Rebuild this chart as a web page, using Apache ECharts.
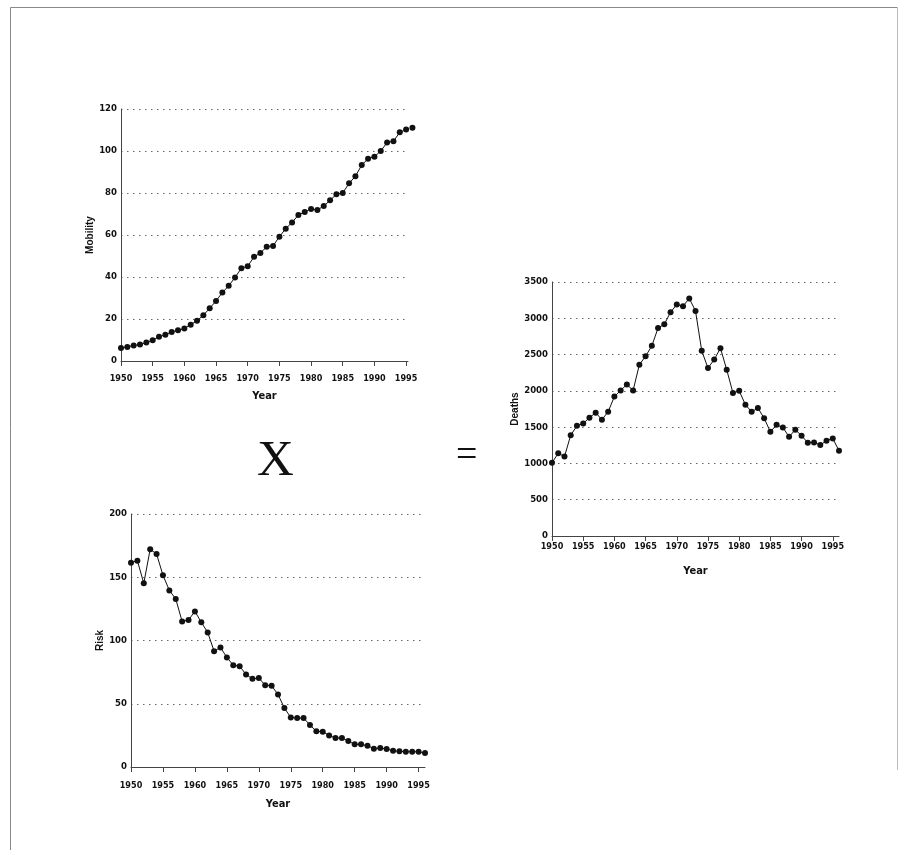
<!DOCTYPE html>
<html>
<head>
<meta charset="utf-8">
<script src="https://cdn.jsdelivr.net/npm/echarts@6/dist/echarts.min.js"></script>
<style>
html,body{margin:0;padding:0;background:#fff;}
#chart{width:908px;height:855px;}
</style>
</head>
<body>
<div id="chart"></div>
<script>
// ---- data ----
const years = [1950,1951,1952,1953,1954,1955,1956,1957,1958,1959,1960,1961,1962,1963,1964,1965,1966,1967,1968,1969,1970,1971,1972,1973,1974,1975,1976,1977,1978,1979,1980,1981,1982,1983,1984,1985,1986,1987,1988,1989,1990,1991,1992,1993,1994,1995,1996];
const mobility = [6.2,6.7,7.4,7.8,8.8,9.9,11.5,12.5,13.8,14.6,15.5,17.3,19.2,21.8,25.1,28.6,32.6,35.8,39.8,44.2,45.1,49.6,51.4,54.4,54.8,59.2,63.0,66.0,69.5,71.0,72.4,71.9,73.8,76.5,79.4,80.0,84.6,88.0,93.3,96.3,97.3,100.0,104.0,104.6,108.9,110.2,111.1];
const risk = [161.5,163.1,145.2,172.2,168.4,151.6,139.6,132.9,115.0,116.3,123.0,114.4,106.4,91.6,94.5,86.6,80.5,79.7,73.2,69.7,70.3,64.7,64.2,57.4,46.6,39.2,38.7,38.7,33.2,28.2,27.9,25.0,22.9,22.9,20.5,17.9,17.9,16.8,14.5,15.0,14.2,12.9,12.4,12.1,12.1,12.0,11.0];
const deaths = [1010,1140,1094,1390,1518,1550,1630,1699,1602,1713,1921,2005,2088,2005,2361,2477,2620,2866,2917,3083,3190,3167,3273,3102,2551,2315,2431,2588,2292,1972,2000,1810,1711,1764,1623,1436,1532,1495,1368,1464,1382,1286,1290,1254,1313,1345,1175];
const yearTicks = [1950,1955,1960,1965,1970,1975,1980,1985,1990,1995];
const yNames = ['Mobility','Risk','Deaths'];
const xName = 'Year';

const narrow = "'Liberation Sans Narrow','Arial Narrow','DejaVu Sans Condensed',sans-serif";
const wide = "'Liberation Sans',Arial,sans-serif";
const axisCol = '#444';
const plain = v => String(v);

function pairs(vals){ return years.map((y,i)=>[y, vals[i]]); }

function xAx(gi, max, margin, nameGap){
  return {
    type:'value', gridIndex:gi, min:1950, max:max,
    name:xName, nameLocation:'middle', nameGap:nameGap,
    nameTextStyle:{fontFamily:narrow, fontWeight:'bold', fontSize:11, color:'#111'},
    axisLine:{show:true, lineStyle:{color:axisCol, width:1}},
    axisTick:{show:true, length:5, customValues:yearTicks, lineStyle:{color:axisCol}},
    axisLabel:{customValues:yearTicks, formatter:plain, margin:margin, fontFamily:narrow, fontWeight:'bold', fontSize:9, color:'#111'},
    splitLine:{show:false}
  };
}
function yAx(gi, max, interval, name, nameGap){
  return {
    type:'value', gridIndex:gi, min:0, max:max, interval:interval,
    name:name, nameLocation:'middle', nameGap:nameGap, nameRotate:90,
    nameTextStyle:{fontFamily:wide, fontWeight:'bold', fontSize:10, color:'#111'},
    axisLine:{show:true, lineStyle:{color:axisCol, width:1}},
    axisTick:{show:false},
    axisLabel:{formatter:plain, margin:4, fontFamily:narrow, fontWeight:'bold', fontSize:9.5, color:'#111'},
    splitLine:{show:true, lineStyle:{color:'#666', width:1, type:[1.5,4.5]}}
  };
}
function ser(gi, vals){
  return {
    type:'line', xAxisIndex:gi, yAxisIndex:gi, data:pairs(vals),
    symbol:'circle', symbolSize:6, clip:false, animation:false,
    itemStyle:{color:'#111'}, lineStyle:{color:'#111', width:1}
  };
}

const chart = echarts.init(document.getElementById('chart'), null, {renderer:'canvas'});
chart.setOption({
  backgroundColor:'#fff',
  animation:false,
  grid:[
    {left:121, top:109, width:287, height:252},
    {left:131, top:514, width:294, height:253},
    {left:552, top:282, width:287, height:254}
  ],
  xAxis:[ xAx(0, 1995.3, 13, 30), xAx(1, 1996, 14, 32), xAx(2, 1996, 6, 30) ],
  yAxis:[ yAx(0, 120, 20, yNames[0], 26), yAx(1, 200, 50, yNames[1], 25), yAx(2, 3500, 500, yNames[2], 30) ],
  series:[ ser(0, mobility), ser(1, risk), ser(2, deaths) ],
  graphic:[
    {type:'line', shape:{x1:10.5,y1:7.5,x2:897.5,y2:7.5}, style:{stroke:'#888', lineWidth:1}},
    {type:'line', shape:{x1:10.5,y1:7.5,x2:10.5,y2:850}, style:{stroke:'#888', lineWidth:1}},
    {type:'line', shape:{x1:897.5,y1:7.5,x2:897.5,y2:770}, style:{stroke:'#bbb', lineWidth:1}},
    {type:'text', left:257, top:436, style:{text:'X', font:"51px 'Liberation Serif','Times New Roman',serif", fill:'#111'}},
    {type:'text', left:456, top:437, style:{text:'=', font:"38px 'Liberation Serif','Times New Roman',serif", fill:'#111'}}
  ]
});
</script>
</body>
</html>
